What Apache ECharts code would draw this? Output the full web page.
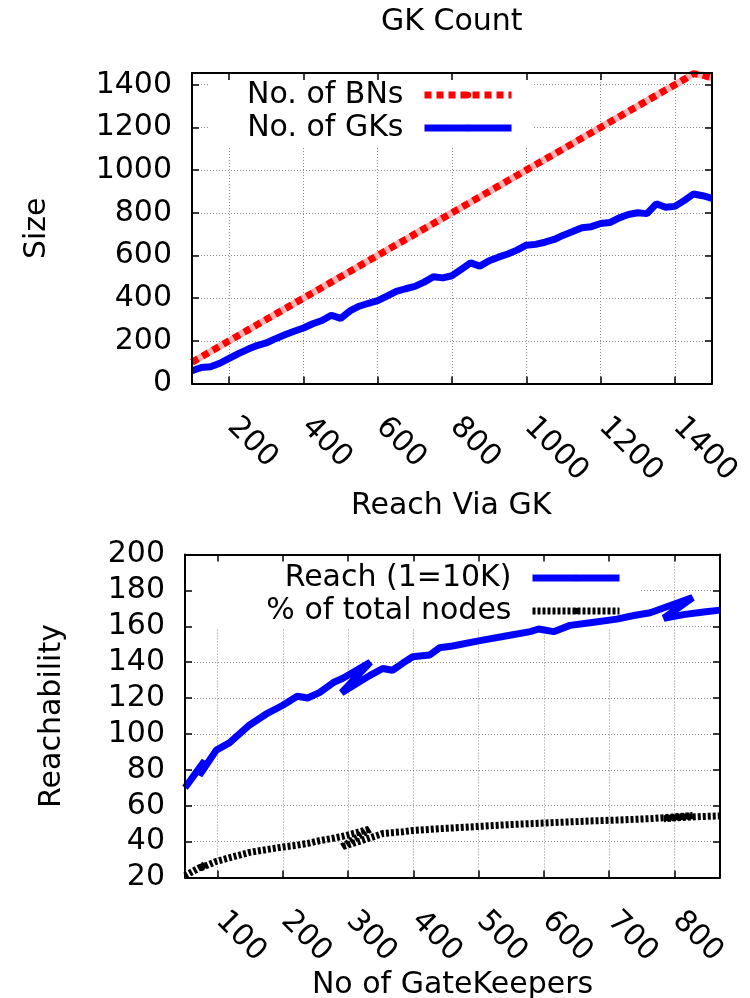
<!DOCTYPE html>
<html><head><meta charset="utf-8">
<script src="https://cdn.jsdelivr.net/npm/echarts@6/dist/echarts.min.js"></script>
<style>html,body{margin:0;padding:0;background:#fff}#c{width:750px;height:998px}</style>
</head><body><div id="c"></div>
<script>
// ---- Top chart: GK Count ----
const bnCount = [100,125,150,175,200,225,250,275,300,325,350,375,400,425,450,475,500,525,550,575,600,625,650,675,700,725,750,775,800,825,850,875,900,925,950,975,1000,1025,1050,1075,1100,1125,1150,1175,1200,1225,1250,1275,1300,1325,1350,1375,1400,1425,1450,1475,1500];
const bnSize = [100,125,150,175,200,225,250,275,300,325,350,375,400,425,450,475,500,525,550,575,600,625,650,675,700,725,750,775,800,825,850,875,900,925,950,975,1000,1025,1050,1075,1100,1125,1150,1175,1200,1225,1250,1275,1300,1325,1350,1375,1400,1425,1452,1445,1432];
const gkSize = [60,75,78,95,118,140,160,178,190,210,228,245,260,280,295,320,305,340,362,376,388,410,432,444,455,475,500,495,505,535,565,550,575,592,607,625,648,652,662,675,695,712,730,735,750,754,776,792,800,796,842,826,830,857,888,880,868];

// ---- Bottom chart: Reach Via GK ----
const gateKeepers = [50,80,72,98,118,149,174,200,222,238,256,279,292,334,290,333,353,368,384,399,425,440,460,502,548,579,592,615,640,671,712,738,763,828,784,814,845,870];
const reach = [70,85,77,91,95,105,111,116,121,120,123,129,131,140,123,132.5,136.5,135.5,139.5,143,144,148,149,152,155,157,158.5,157,160.5,162,164,166,167.5,176,164.5,166.5,168,169];
const pctNodes = [21,27,25,29,31,34,35.5,37,38,39,40.5,42,43,47,37,42,44.5,45,45.5,46.2,46.8,47.2,47.6,48.5,49.5,50,50.2,50.6,51,51.5,52,52.4,52.8,54.5,52.8,53.5,54,54.3];

const FF = 'DejaVu Sans';
const FS = 30;

function pairs(xs, ys){ return xs.map((x,i)=>[x, ys[i]]); }
const plain = v => String(v);

function axisSet(dim, gi, minV, maxV, step, mainExtra){
  const base = {type:'value', gridIndex:gi, min:minV, max:maxV};
  if (step.interval) base.interval = step.interval; else base.splitNumber = step.splitNumber;
  const line = {show:true, onZero:false, lineStyle:{color:'#000', width:2}};
  const tick = {show:true, inside:true, length:7, lineStyle:{color:'#000', width:1.5}};
  const main = Object.assign({}, base, {
    position: dim==='x' ? 'bottom' : 'left', z:3,
    axisLine: line, axisTick: tick, splitLine:{show:false}
  }, mainExtra);
  const mirror = Object.assign({}, base, {
    position: dim==='x' ? 'top' : 'right', z:3,
    axisLine: line, axisTick: tick, axisLabel:{show:false}, splitLine:{show:false}
  });
  const gridAx = Object.assign({}, base, {
    position: dim==='x' ? 'bottom' : 'left', z:0,
    axisLine:{show:false}, axisTick:{show:false}, axisLabel:{show:false},
    splitLine:{show:true, lineStyle:{color:'#8a8a8a', width:1, type:[1,2]}}
  });
  return [main, mirror, gridAx];
}

const xLabel = {show:true, rotate:-45, margin:36, fontFamily:FF, fontSize:FS, color:'#000', padding:[0,0,8,4], formatter:plain};
const yLabel = {show:true, margin:20, fontFamily:FF, fontSize:FS, color:'#000', formatter:plain};
const nameStyle = {fontFamily:FF, fontSize:FS, color:'#000'};

const xTop = axisSet('x', 0, 100, 1500, {splitNumber:7}, {axisLabel:Object.assign({}, xLabel, {showMinLabel:false, showMaxLabel:false})});
const yTop = axisSet('y', 0, 0, 1455, {interval:200}, {axisLabel:Object.assign({}, yLabel, {showMaxLabel:false}), name:'Size', nameLocation:'middle', nameGap:140, nameTextStyle:nameStyle});
const xBot = axisSet('x', 1, 50, 870, {splitNumber:8}, {axisLabel:Object.assign({}, xLabel, {showMinLabel:false, showMaxLabel:false}), name:'No of GateKeepers', nameLocation:'middle', nameGap:83, nameTextStyle:nameStyle});
const yBot = axisSet('y', 1, 20, 200, {interval:20}, {axisLabel:yLabel, name:'Reachability', nameLocation:'middle', nameGap:118, nameTextStyle:nameStyle});

const legendText = {fontFamily:FF, fontSize:FS, color:'#000', padding:[0,16,0,0]};

const option = {
  animation:false,
  backgroundColor:'#fff',
  title:[
    {text:'GK Count', left:381, top:7, padding:0, textStyle:{fontFamily:FF, fontSize:FS, fontWeight:'normal', color:'#000'}},
    {text:'Reach Via GK', left:351, top:491, padding:0, textStyle:{fontFamily:FF, fontSize:FS, fontWeight:'normal', color:'#000'}}
  ],
  grid:[
    {left:192, top:73, width:520, height:310.5, outerBoundsMode:'none'},
    {left:185, top:554.5, width:535, height:323, outerBoundsMode:'none'}
  ],
  legend:[
    {data:['No. of BNs','No. of GKs'], orient:'vertical', align:'right', right:216, top:75,
     padding:[5,19,4,39], itemGap:3, itemWidth:87, itemHeight:8, backgroundColor:'#fff', z:1,
     selectedMode:false, textStyle:legendText, lineStyle:{width:7}},
    {data:['Reach (1=10K)','% of total nodes'], orient:'vertical', align:'right', right:109, top:556,
     padding:[7,18,2,85], itemGap:3, itemWidth:87, itemHeight:8, backgroundColor:'#fff', z:1,
     selectedMode:false, textStyle:legendText, lineStyle:{width:7}}
  ],
  xAxis:[].concat(xTop, xBot),
  yAxis:[].concat(yTop, yBot),
  series:[
    {type:'line', name:'bn-underlay', xAxisIndex:0, yAxisIndex:0, data:pairs(bnCount, bnSize), symbol:'none', z:2,
     lineStyle:{color:'#ffb3b3', width:7}, itemStyle:{color:'#ffb3b3'}},
    {type:'line', name:'No. of BNs', xAxisIndex:0, yAxisIndex:0, data:pairs(bnCount, bnSize), symbol:'none', z:2,
     lineStyle:{color:'#ff0000', width:7, type:[7,5]}, itemStyle:{color:'#ff0000'}},
    {type:'line', name:'No. of GKs', xAxisIndex:0, yAxisIndex:0, data:pairs(bnCount, gkSize), symbol:'none', z:2,
     lineStyle:{color:'#0000ff', width:7}, itemStyle:{color:'#0000ff'}},
    {type:'line', name:'Reach (1=10K)', xAxisIndex:3, yAxisIndex:3, data:pairs(gateKeepers, reach), symbol:'none', z:2,
     lineStyle:{color:'#0000ff', width:7}, itemStyle:{color:'#0000ff'}},
    {type:'line', name:'% of total nodes', xAxisIndex:3, yAxisIndex:3, data:pairs(gateKeepers, pctNodes), symbol:'none', z:2,
     lineStyle:{color:'#000000', width:7, type:[3,2]}, itemStyle:{color:'#000000'}}
  ]
};

const chart = echarts.init(document.getElementById('c'), null, {renderer:'canvas'});
chart.setOption(option);
</script></body></html>
